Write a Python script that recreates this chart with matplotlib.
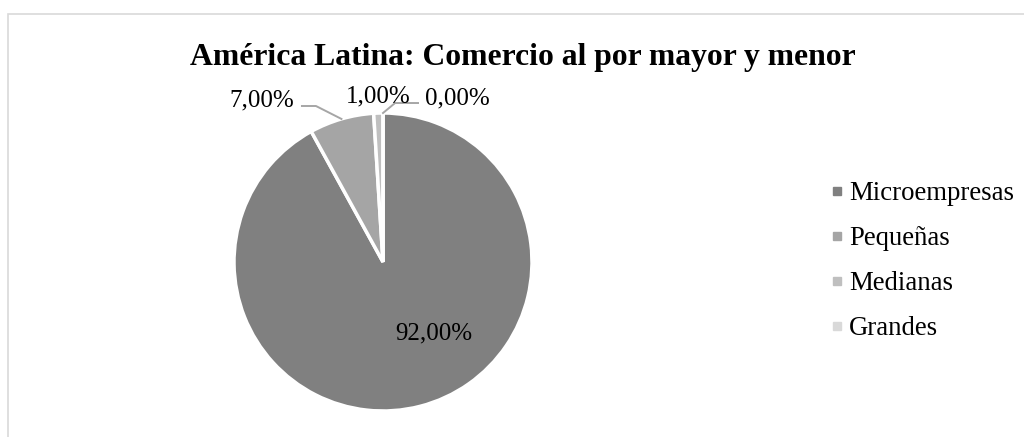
import numpy as np
import matplotlib.pyplot as plt
from matplotlib.patches import Rectangle
from matplotlib.lines import Line2D

plt.rcParams['font.family'] = ['Liberation Serif', 'DejaVu Serif']

categorias = ['Microempresas', 'Pequeñas', 'Medianas', 'Grandes']
valores = [92.0, 7.0, 1.0, 0.0]
etiquetas = ['92,00%', '7,00%', '1,00%', '0,00%']
colores = ['#808080', '#a5a5a5', '#bfbfbf', '#d9d9d9']

W, H = 1024, 437
fig = plt.figure(figsize=(W / 100, H / 100), dpi=100)

# marco del area del grafico
fig.add_artist(Rectangle((8 / W, -0.1), 1.1, 1 - 14 / H + 0.1, transform=fig.transFigure,
                         fill=False, edgecolor='#d9d9d9', linewidth=1.2))

fig.text(523 / W, 1 - 65 / H, 'América Latina: Comercio al por mayor y menor',
         ha='center', va='baseline', fontsize=22.8, fontweight='bold')

cx, cy, r = 383, 262, 149
ax = fig.add_axes([(cx - r) / W, (H - cy - r) / H, 2 * r / W, 2 * r / H])
wedges, _ = ax.pie(valores, colors=colores, startangle=90, counterclock=False,
                   wedgeprops=dict(edgecolor='white', linewidth=2.5))
ax.set_xlim(-1, 1)
ax.set_ylim(-1, 1)
ax.set_aspect('equal')

# posiciones de las etiquetas (centro horizontal, linea base)
pos_txt = [(0.342, -0.523), (-0.815, 1.047), (-0.030, 1.074), (0.497, 1.060)]
for i in range(4):
    tx, ty = pos_txt[i]
    ax.text(tx, ty, etiquetas[i], ha='center', va='baseline', fontsize=18)

# lineas guia
for i, (xs, ys) in {1: ([-0.544, -0.450], [1.047, 1.047]),
                    3: ([0.235, 0.081], [1.067, 1.067])}.items():
    w = wedges[i]
    ang = np.deg2rad((w.theta1 + w.theta2) / 2)
    ax.plot(xs + [np.cos(ang)], ys + [np.sin(ang)], color='#a6a6a6', lw=1.4, clip_on=False)

handles = [Line2D([], [], marker='s', linestyle='', markersize=6, color=c) for c in colores]
fig.legend(handles, categorias, loc='center left', bbox_to_anchor=(829 / W, 1 - 261.4 / H),
           frameon=False, fontsize=19.3, labelspacing=0.746, handletextpad=0.15,
           handlelength=0.6, borderpad=0, borderaxespad=0)

fig.savefig('out.png', dpi=100)
